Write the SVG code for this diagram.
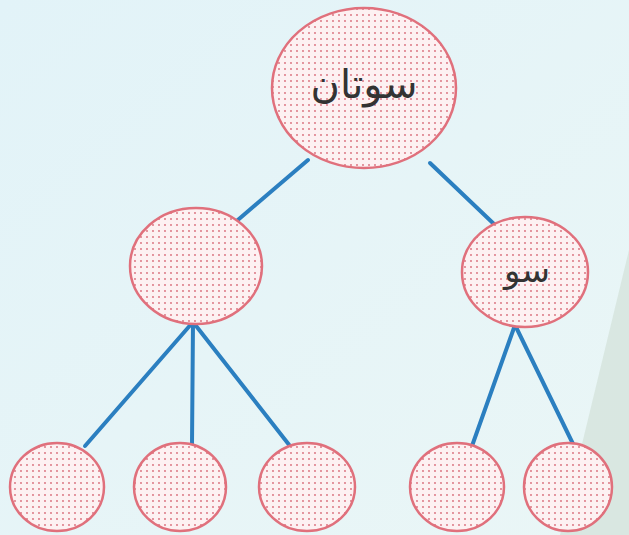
<svg xmlns="http://www.w3.org/2000/svg" width="629" height="535" viewBox="0 0 629 535">
<defs>
<linearGradient id="bg" x1="0" y1="0" x2="1" y2="1">
<stop offset="0" stop-color="#e2f3f8"/>
<stop offset="1" stop-color="#eaf6f6"/>
</linearGradient>
<pattern id="dots" width="6" height="6" patternUnits="userSpaceOnUse">
<rect width="6" height="6" fill="#fdf1f2"/>
<circle cx="3" cy="3" r="0.9" fill="#d86a78"/>
</pattern>
<style>
.n{fill:url(#dots);stroke:#e0707c;stroke-width:2.5}
.c{stroke:#2b7fc0;stroke-width:4;fill:none;stroke-linecap:round}
.t{font-family:"DejaVu Sans","Noto Sans",sans-serif;fill:#333;text-anchor:middle}
</style>
</defs>
<rect width="629" height="535" fill="url(#bg)"/>
<path d="M629 250 L560 535 L629 535 Z" fill="#d4e4dc" opacity="0.8"/>
<g id="connectors">
<line class="c" x1="308" y1="160" x2="232" y2="225"/>
<line class="c" x1="430" y1="163" x2="495" y2="225"/>
<line class="c" x1="193" y1="322" x2="85" y2="446"/>
<line class="c" x1="193" y1="322" x2="192" y2="444"/>
<line class="c" x1="193" y1="322" x2="290" y2="446"/>
<line class="c" x1="515" y1="325" x2="472" y2="446"/>
<line class="c" x1="515" y1="325" x2="575" y2="448"/>
</g>
<g id="root">
<ellipse class="n" cx="364" cy="88" rx="92" ry="80"/>
<text class="t" x="364" y="98" font-size="40">سوتان</text>
</g>
<g id="mid-left">
<ellipse class="n" cx="196" cy="266" rx="66" ry="58"/>
</g>
<g id="mid-right">
<ellipse class="n" cx="525" cy="272" rx="63" ry="55"/>
<text class="t" x="527" y="282" font-size="34">سو</text>
</g>
<g id="leaf1"><ellipse class="n" cx="57" cy="487" rx="47" ry="44"/></g>
<g id="leaf2"><ellipse class="n" cx="180" cy="487" rx="46" ry="44"/></g>
<g id="leaf3"><ellipse class="n" cx="307" cy="487" rx="48" ry="44"/></g>
<g id="leaf4"><ellipse class="n" cx="457" cy="487" rx="47" ry="44"/></g>
<g id="leaf5"><ellipse class="n" cx="568" cy="487" rx="44" ry="44"/></g>
</svg>
